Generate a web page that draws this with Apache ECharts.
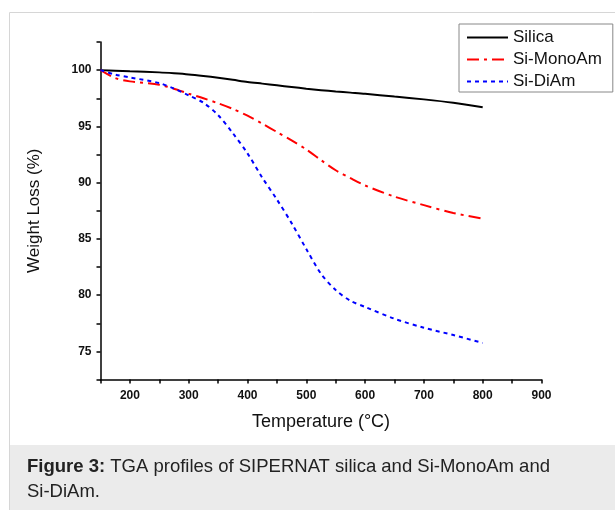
<!DOCTYPE html>
<html>
<head>
<meta charset="utf-8">
<script src="https://cdn.jsdelivr.net/npm/echarts@6/dist/echarts.min.js"></script>
<style>
html,body{margin:0;padding:0;background:#fff;}
#chart{width:615px;height:510px;}
</style>
</head>
<body>
<div id="chart"></div>
<script>
const FONT = '"Liberation Sans", Arial, sans-serif';
const temps = [150, 175, 200, 250, 275, 300, 325, 350, 375, 400, 425, 450, 475, 500, 525, 550, 575, 600, 650, 700, 750, 800];
const silica = [100, 99.95, 99.9, 99.8, 99.72, 99.62, 99.48, 99.32, 99.14, 98.95, 98.8, 98.65, 98.5, 98.35, 98.22, 98.1, 98.0, 97.9, 97.65, 97.4, 97.1, 96.7];
const monoAm = [100, 99.3, 99.0, 98.7, 98.35, 97.9, 97.5, 97.05, 96.55, 95.95, 95.25, 94.5, 93.75, 92.95, 92.0, 91.1, 90.4, 89.75, 88.75, 88.0, 87.3, 86.8];
const diAm = [100, 99.6, 99.35, 98.85, 98.35, 97.75, 97.1, 96.0, 94.4, 92.6, 90.45, 88.5, 86.4, 84.1, 81.9, 80.45, 79.5, 78.95, 77.9, 77.1, 76.45, 75.75];
const seriesNames = ['Silica', 'Si-MonoAm', 'Si-DiAm'];
const xTicks = [200, 300, 400, 500, 600, 700, 800, 900];
const yTicks = [75, 80, 85, 90, 95, 100];
const captionBold = 'Figure 3:';
const captionLine1 = ' TGA profiles of SIPERNAT silica and Si-MonoAm and';
const captionLine2 = 'Si-DiAm.';

const chart = echarts.init(document.getElementById('chart'));
const pair = arr => temps.map((t, i) => [t, arr[i]]);

chart.setOption({
  animation: false,
  backgroundColor: '#fff',
  textStyle: { fontFamily: FONT },
  graphic: [
    { type: 'rect', z: -10, shape: { x: 9.5, y: 12.5, width: 640, height: 520 },
      style: { fill: '#fff', stroke: '#d6d6d6', lineWidth: 1 } },
    { type: 'rect', z: -9, shape: { x: 10, y: 445, width: 620, height: 70 },
      style: { fill: '#ebebeb' } },
    { type: 'text', z: 10, left: 27, top: 457,
      style: { text: '{b|' + captionBold + '}{n|' + captionLine1 + '}\n{n|' + captionLine2 + '}',
        rich: {
          b: { fontFamily: FONT, fontSize: 18.5, fontWeight: 'bold', fill: '#222', lineHeight: 25 },
          n: { fontFamily: FONT, fontSize: 18.5, fill: '#222', lineHeight: 25 }
        } } }
  ],
  grid: { left: 100.5, top: 42, width: 441, height: 337.5, containLabel: false },
  legend: {
    data: seriesNames,
    orient: 'vertical',
    left: 459, top: 24,
    padding: [5, 11, 2, 7],
    itemGap: 5,
    itemWidth: 41, itemHeight: 14,
    itemStyle: { opacity: 0 },
    borderColor: '#888', borderWidth: 1, borderRadius: 0,
    textStyle: { fontFamily: FONT, fontSize: 17, color: '#111' }
  },
  xAxis: {
    type: 'value', min: 150, max: 900, interval: 50,
    name: 'Temperature (°C)', nameLocation: 'middle', nameGap: 34,
    nameTextStyle: { fontFamily: FONT, fontSize: 18, color: '#111' },
    axisLine: { lineStyle: { color: '#000', width: 1.5 } },
    axisTick: { inside: false, length: 4, lineStyle: { color: '#000', width: 1.5 } },
    axisLabel: { margin: 10, fontFamily: FONT, fontSize: 12, fontWeight: 'bold', color: '#111',
      formatter: v => (xTicks.indexOf(v) >= 0 ? String(v) : '') },
    splitLine: { show: false }
  },
  yAxis: {
    type: 'value', min: 72.5, max: 102.5, interval: 2.5,
    name: 'Weight Loss (%)', nameLocation: 'middle', nameGap: 58,
    nameTextStyle: { fontFamily: FONT, fontSize: 17, color: '#111' },
    axisLine: { show: true, lineStyle: { color: '#000', width: 1.5 } },
    axisTick: { show: true, inside: false, length: 4, lineStyle: { color: '#000', width: 1.5 } },
    axisLabel: { margin: 9, fontFamily: FONT, fontSize: 12, fontWeight: 'bold', color: '#111',
      formatter: v => (yTicks.indexOf(v) >= 0 ? String(v) : '') },
    splitLine: { show: false }
  },
  series: [
    { name: seriesNames[0], type: 'line', data: pair(silica), smooth: 0.3, symbol: 'none', showSymbol: false,
      itemStyle: { color: '#000' },
      lineStyle: { color: '#000', width: 2, type: 'solid' } },
    { name: seriesNames[1], type: 'line', data: pair(monoAm), smooth: 0.3, symbol: 'none', showSymbol: false,
      itemStyle: { color: '#ff0000' },
      lineStyle: { color: '#ff0000', width: 2, type: [12, 5, 3, 5] } },
    { name: seriesNames[2], type: 'line', data: pair(diAm), smooth: 0.3, symbol: 'none', showSymbol: false,
      itemStyle: { color: '#0000ff' },
      lineStyle: { color: '#0000ff', width: 2, type: [4, 4] } }
  ]
});
</script>
</body>
</html>
